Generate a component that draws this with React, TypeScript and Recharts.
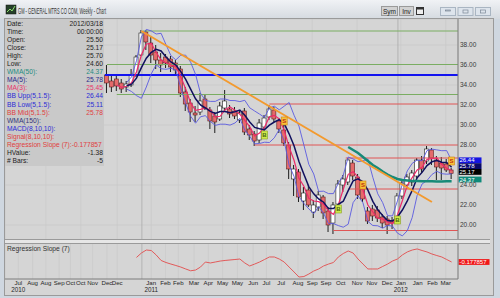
import React from 'react';
import { ComposedChart, Bar, Line, XAxis, YAxis, CartesianGrid, ReferenceLine } from 'recharts';

// GM weekly bars, week 0 = IPO week (Nov 2010) ... week 70 = 2012/03/18
const opens = [35.0, 34.4, 34.6, 34.2, 33.8, 34.0, 35.0, 37.0, 39.3, 38.2, 37.3, 36.5, 36.8, 36.6, 36.2, 35.6, 33.3, 32.2, 31.2, 31.3, 32.6, 31.5, 30.9, 30.6, 31.7, 31.6, 31.4, 30.5, 31.4, 29.6, 29.1, 28.5, 29.8, 30.8, 31.5, 30.4, 29.5, 28.0, 24.6, 25.3, 22.4, 23.5, 21.3, 21.8, 22.8, 21.4, 20.2, 22.1, 24.0, 24.3, 26.2, 24.8, 23.6, 21.4, 21.6, 21.5, 20.8, 20.6, 20.4, 20.6, 22.9, 24.0, 24.3, 24.9, 26.5, 26.4, 27.5, 26.5, 26.2, 26.1, 25.5];
const highs = [36.0, 35.0, 35.0, 34.6, 34.4, 35.6, 37.0, 39.5, 39.5, 38.8, 38.0, 37.2, 37.1, 36.9, 36.5, 35.9, 33.8, 32.6, 31.9, 33.2, 33.0, 31.8, 31.3, 32.3, 33.5, 32.0, 31.8, 31.5, 31.7, 30.0, 29.4, 30.6, 31.0, 32.0, 31.8, 30.7, 30.0, 28.3, 26.0, 25.6, 23.8, 24.0, 22.5, 23.4, 23.0, 21.8, 22.3, 24.5, 25.0, 26.7, 26.5, 25.1, 24.1, 21.8, 22.0, 21.9, 21.1, 20.9, 20.8, 23.2, 24.5, 25.1, 25.5, 26.7, 26.9, 27.9, 27.7, 26.9, 26.8, 26.6, 25.7];
const lows = [33.2, 33.3, 33.4, 33.2, 33.3, 33.8, 34.8, 36.9, 37.5, 36.2, 35.6, 35.3, 35.7, 35.3, 34.9, 32.8, 31.4, 30.3, 30.3, 31.0, 31.5, 29.6, 29.2, 30.4, 31.5, 30.7, 30.6, 30.2, 29.0, 28.5, 27.9, 28.2, 29.4, 30.5, 30.3, 29.2, 27.9, 24.6, 22.9, 22.3, 21.5, 21.8, 20.7, 21.4, 20.6, 19.3, 19.1, 21.8, 23.3, 24.0, 24.5, 22.6, 22.3, 20.1, 20.4, 20.3, 19.7, 19.1, 19.6, 20.4, 22.6, 23.6, 23.9, 24.6, 25.2, 26.1, 26.0, 24.5, 24.5, 25.3, 24.6];
const closes = [34.2, 33.8, 33.9, 33.6, 34.1, 35.0, 36.8, 39.2, 38.3, 37.0, 36.5, 36.0, 36.2, 35.8, 35.5, 33.2, 32.1, 31.3, 31.0, 32.4, 31.7, 30.4, 30.3, 31.9, 32.4, 31.1, 30.9, 31.2, 29.3, 29.0, 28.4, 30.2, 30.7, 31.6, 30.6, 29.6, 28.2, 25.6, 25.6, 22.8, 23.2, 22.0, 22.0, 23.0, 21.2, 20.0, 22.0, 24.1, 24.6, 26.5, 24.9, 23.0, 22.6, 20.4, 20.9, 20.7, 20.2, 20.0, 20.2, 22.9, 24.2, 24.8, 25.2, 26.5, 25.6, 27.6, 26.7, 25.8, 25.7, 25.5, 25.17];

// indicator lines (each starts at its own week)
const ma3Start = 2;
const ma3 = [33.97, 33.77, 33.87, 34.23, 35.3, 37.0, 38.1, 38.17, 37.27, 36.5, 36.23, 36.0, 35.83, 34.83, 33.6, 32.2, 31.47, 31.57, 31.7, 31.5, 30.8, 30.87, 31.53, 31.8, 31.47, 31.07, 30.47, 29.83, 28.9, 29.2, 29.77, 30.83, 30.97, 30.6, 29.47, 27.8, 26.47, 24.67, 23.87, 22.67, 22.4, 22.33, 22.07, 21.4, 21.07, 22.03, 23.57, 25.07, 25.33, 24.8, 23.5, 22.0, 21.3, 20.67, 20.6, 20.3, 20.13, 21.03, 22.43, 23.97, 24.73, 25.5, 25.77, 26.57, 26.63, 26.7, 26.07, 25.67, 25.45];
const ma5Start = 4;
const ma5 = [33.92, 34.08, 34.68, 35.74, 36.68, 37.26, 37.56, 37.4, 36.8, 36.3, 36.0, 35.34, 34.56, 33.58, 32.62, 32.0, 31.7, 31.36, 31.16, 31.34, 31.34, 31.22, 31.32, 31.5, 30.98, 30.3, 29.76, 29.62, 29.52, 29.98, 30.3, 30.54, 30.14, 29.12, 27.92, 26.36, 25.08, 23.84, 23.12, 22.6, 22.28, 21.64, 21.64, 22.06, 22.38, 23.44, 24.42, 24.62, 24.32, 23.48, 22.36, 21.52, 20.96, 20.44, 20.4, 20.8, 21.5, 22.42, 23.46, 24.72, 25.26, 25.94, 26.32, 26.44, 26.28, 26.26, 25.78];
const bbStart = 4;
const bbUpper = [34.24, 34.81, 36.42, 38.81, 39.56, 39.41, 39.1, 39.17, 38.03, 36.93, 36.51, 36.98, 36.98, 36.28, 35.06, 33.18, 32.46, 32.36, 32.36, 32.6, 32.6, 32.45, 32.44, 32.34, 32.47, 31.72, 31.4, 31.09, 30.76, 31.71, 31.88, 31.52, 31.88, 32.25, 30.98, 29.89, 28.0, 26.07, 25.11, 23.36, 23.38, 23.14, 23.14, 24.18, 24.98, 26.8, 26.6, 26.33, 26.42, 26.6, 24.77, 23.12, 22.24, 20.93, 20.91, 22.41, 24.09, 25.41, 26.17, 26.49, 26.42, 27.44, 27.59, 27.51, 27.43, 27.44, 26.44];
const bbLower = [33.6, 33.35, 32.94, 32.67, 33.8, 35.11, 36.02, 35.63, 35.57, 35.67, 35.49, 33.7, 32.14, 30.88, 30.18, 30.82, 30.94, 30.36, 29.96, 30.08, 30.08, 29.99, 30.2, 30.66, 29.49, 28.88, 28.12, 28.15, 28.28, 28.25, 28.72, 29.56, 28.4, 25.99, 24.86, 22.83, 22.16, 21.61, 21.13, 21.84, 21.18, 20.14, 20.14, 19.94, 19.78, 20.08, 22.24, 22.91, 22.22, 20.36, 19.95, 19.92, 19.68, 19.95, 19.89, 19.19, 18.91, 19.43, 20.75, 22.95, 24.1, 24.44, 25.05, 25.37, 25.13, 25.08, 25.11];
const wma50Start = 49;
const wma50 = [27.8, 27.5, 27.2, 26.8, 26.4, 26.0, 25.7, 25.35, 25.05, 24.8, 24.6, 24.5, 24.45, 24.4, 24.4, 24.38, 24.38, 24.37, 24.36, 24.36, 24.37, 24.37];
const slopeStart = 6;
const regSlope = [0.2, 0.57, 0.82, 0.78, 0.41, -0.05, -0.22, -0.35, -0.47, -0.6, -0.76, -0.91, -0.85, -0.6, -0.18, -0.26, -0.18, -0.1, -0.05, -0.01, 0.03, 0.07, -0.26, -0.51, -0.35, -0.18, 0.03, 0.24, 0.24, 0.07, -0.18, -0.6, -1.01, -1.43, -1.39, -1.18, -0.93, -0.76, -0.51, -0.35, -0.22, 0.24, 0.53, 0.74, 0.57, 0.07, -0.35, -0.76, -0.76, -0.76, -0.55, -0.35, -0.1, 0.07, 0.41, 0.66, 0.82, 0.91, 0.78, 0.66, 0.49, 0.36, 0.24, 0.03, -0.177857];

const trendWeeks = [7, 66];
const trendPrices = [39.4, 22.3];
const buyWeeks = [32, 47, 59];
const buyPrices = [29.0, 21.6, 20.5];
const sellWeeks = [36, 52, 70];
const sellPrices = [30.4, 24.0, 26.4];

const greenLevels = [39.4, 36.05, 33.05];
const greenFrom = [7.3, 0, 2];
const ipoLevel = 35.0;
const ipoFrom = -0.4;
const redLevels = [32.1, 28.0, 26.7, 23.6, 19.45];
const redFrom = [33, 30, 48.5, 49, 46];
const yearBreaks = [7.1, 59.1];

// 26.00 sits behind the last-value boxes in the original, so it is not listed
const priceTicks = [20, 22, 24, 28, 30, 32, 34, 36, 38];
const tickWeeks = [-18, -15.1, -12.4, -9.7, -7.4, -5.3, -2.9, 0, 2.1, 9, 11.9, 14.5, 17.7, 20.6, 23.5, 26.5, 29.7, 32.4, 35.4, 38.8, 41.7, 44.5, 47.5, 50.8, 53.8, 56.9, 59.7, 63.1, 66.1, 68.8];
const tickMonths = ['Jul', 'Aug', 'Aug', 'Sep', 'Oct', 'Oct', 'Nov', 'Dec', 'Dec', 'Jan', 'Feb', 'Feb', 'Mar', 'Apr', 'May', 'May', 'Jun', 'Jul', 'Jul', 'Aug', 'Sep', 'Sep', 'Oct', 'Nov', 'Nov', 'Dec', 'Jan', 'Jan', 'Feb', 'Mar'];
const tickYears = ['2010', '', '', '', '', '', '', '', '', '2011', '', '', '', '', '', '', '', '', '', '', '', '', '', '', '', '', '2012', '', '', ''];

const lastValues = [26.44, 25.78, 25.17, 24.37];
const lastSlope = -0.177857;

const infoLabels = ['Date:', 'Time:', 'Open:', 'Close:', 'High:', 'Low:', 'WMA(50):', 'MA(5):', 'MA(3):', 'BB Upp(5,1.5):', 'BB Low(5,1.5):', 'BB Mid(5,1.5):', 'WMA(150):', 'MACD(8,10,10):', 'Signal(8,10,10):', 'Regression Slope (7):-0.177857', 'HValue:', '# Bars:'];
const infoValues = ['2012/03/18', '00:00:00', '25.50', '25.17', '25.70', '24.60', '24.37', '25.78', '25.45', '26.44', '25.11', '25.78', '', '', '', '', '-1.38', '-5'];

const FONT = "'Liberation Sans', Arial, sans-serif";
const DOMAIN: [number, number] = [-20.7, 71.3];
const infoColors = ['#222', '#222', '#222', '#222', '#222', '#222', '#1f8c80', '#2a2a8a', '#e8336b', '#2b2bd6', '#2b2bd6', '#e04040', '#34347a', '#2b2bd6', '#e04040', '#e04040', '#222', '#222'];
const boxColors = ['#1515e0', '#0a0a6a', '#000000', '#0f8a7a'];
const boxShift = [-0.3, -1.1, -1.4, -1.8];

const pick = (arr: number[], start: number, i: number) => (i >= start ? arr[i - start] : null);
const at = (weeks: number[], vals: number[], i: number) => (weeks.includes(i) ? vals[weeks.indexOf(i)] : null);

const rows = opens.map((open, i) => ({
    w: i,
    open,
    high: highs[i],
    low: lows[i],
    close: closes[i],
    range: [lows[i], highs[i]],
    ma3: pick(ma3, ma3Start, i),
    ma5: pick(ma5, ma5Start, i),
    bbU: pick(bbUpper, bbStart, i),
    bbL: pick(bbLower, bbStart, i),
    wma: pick(wma50, wma50Start, i),
    slope: pick(regSlope, slopeStart, i),
    trend: at(trendWeeks, trendPrices, i),
    buy: at(buyWeeks, buyPrices, i),
    sell: at(sellWeeks, sellPrices, i),
}));

const Candle = (props: any) => {
    const { x, y, width, height, payload } = props;
    if (!payload || x == null || y == null) return <g />;
    const { open, close, high, low } = payload;
    const k = height / Math.max(high - low, 0.0001);
    const top = y + (high - Math.max(open, close)) * k;
    const bot = y + (high - Math.min(open, close)) * k;
    const cx = x + width / 2;
    const up = close >= open;
    return (
        <g>
            <line x1={cx} x2={cx} y1={y} y2={y + height} stroke="#1e1e1e" strokeWidth={1} />
            <rect x={x} y={top} width={width} height={Math.max(bot - top, 1)} fill={up ? '#ffffff' : '#e46a6a'} stroke={up ? '#222' : '#5a1f1f'} strokeWidth={0.6} />
        </g>
    );
};

const Marker = (letter: string, fill: string, stroke: string, color: string) => (props: any) => {
    const { cx, cy, value } = props;
    if (value == null || cx == null || cy == null) return <g key={props.key} />;
    return (
        <g key={props.key}>
            <rect x={cx - 3} y={cy - 4} width={6} height={8} fill={fill} stroke={stroke} strokeWidth={0.6} />
            <text x={cx} y={cy + 2.3} fontSize={6} textAnchor="middle" fill={color} fontFamily={FONT} fontWeight={700}>{letter}</text>
        </g>
    );
};

const valueBox = (text: string, fill: string, dy: number, w: number) => (props: any) => {
    const vb = props.viewBox || {};
    const x = vb.x + vb.width + 0.5;
    const y = vb.y + dy;
    return (
        <g>
            <rect x={x} y={y - 2.9} width={w} height={5.8} fill={fill} />
            <text x={x + 1} y={y + 2.1} fontSize={6} fill="#ffffff" fontFamily={FONT}>{text}</text>
        </g>
    );
};

const MonthTick = (props: any) => {
    const { x, y, payload } = props;
    const i = tickWeeks.indexOf(payload.value);
    return (
        <g>
            <text x={x} y={y + 6} textAnchor="middle" fontSize={6.1} fill="#262626" fontFamily={FONT}>{tickMonths[i]}</text>
            {tickYears[i] ? <text x={x} y={y + 13} textAnchor="middle" fontSize={6.3} fill="#262626" fontFamily={FONT}>{tickYears[i]}</text> : null}
        </g>
    );
};

export default function App() {
    return (
        <div style={{ position: 'absolute', left: 0, top: 0, width: 500, height: 298, background: '#cfd7e0', fontFamily: FONT, overflow: 'hidden' }}>
            <svg width={500} height={19} style={{ position: 'absolute', left: 0, top: 0 }}>
                <defs>
                    <linearGradient id="tbar" x1="0" y1="0" x2="0" y2="1">
                        <stop offset="0" stopColor="#f0f2f5" />
                        <stop offset="1" stopColor="#d5dae0" />
                    </linearGradient>
                </defs>
                <rect x={0} y={0} width={500} height={19} fill="url(#tbar)" />
                <rect x={6} y={5} width={10} height={9} fill="#26402a" stroke="#111" strokeWidth={0.5} />
                <polyline points="7,12 10,9 12,11 15,6" stroke="#8fe070" strokeWidth={1} fill="none" />
                <text x={18} y={13.5} fontSize={8.5} fill="#333" textLength={88} lengthAdjust="spacingAndGlyphs">GM - GENERAL MTRS CO COM, Weekly - Chart</text>
                <rect x={381.5} y={6.5} width={16} height={9} fill="#d2d2d2" stroke="#9a9a9a" />
                <text x={389.5} y={13.5} fontSize={6.5} textAnchor="middle" fill="#222">Sym</text>
                <rect x={399.5} y={6.5} width={14} height={9} fill="#d2d2d2" stroke="#9a9a9a" />
                <text x={406.5} y={13.5} fontSize={6.5} textAnchor="middle" fill="#222">Inv</text>
                <rect x={416.5} y={7.5} width={7} height={7} fill="#eeeeee" stroke="#333" />
                <rect x={416.5} y={7.5} width={7} height={2} fill="#333" />
                {[440.5, 458, 475.5].map((bx, i) => (
                    <g key={i}>
                        <rect x={bx} y={7.5} width={15} height={8} fill="#dde4ec" stroke="#a9b5c2" />
                        <rect x={bx + 5} y={10} width={5} height={i === 0 ? 1 : 3} fill="none" stroke="#7a8696" strokeWidth={0.7} />
                    </g>
                ))}
            </svg>

            <div style={{ position: 'absolute', left: 4, top: 18, width: 490, height: 278, background: '#d5d5d5', boxShadow: 'inset 0 0 0 1px #9a9a9a' }} />

            <div style={{ position: 'absolute', left: 5, top: 19 }}>
                <ComposedChart width={485} height={221} data={rows} margin={{ top: 0, right: 0, bottom: 0, left: 0 }}>
                    <CartesianGrid stroke="#c8c8c8" strokeWidth={0.6} />
                    <XAxis dataKey="w" type="number" domain={DOMAIN} ticks={tickWeeks} allowDataOverflow hide />
                    <YAxis
                        orientation="right"
                        width={32}
                        domain={[18.5, 40.6]}
                        ticks={priceTicks}
                        allowDataOverflow
                        tickFormatter={(v: number) => v.toFixed(2)}
                        tick={{ fontSize: 6.5, fill: '#3a3a3a', fontFamily: FONT }}
                        tickSize={2}
                        tickMargin={0}
                        tickLine={false}
                        axisLine={{ stroke: '#7d7d7d' }}
                    />
                    {yearBreaks.map((x) => (
                        <ReferenceLine key={`yb-${x}`} x={x} stroke="#a9a9a9" strokeWidth={0.8} />
                    ))}
                    {greenLevels.map((p, i) => (
                        <ReferenceLine key={`g-${i}`} segment={[{ x: greenFrom[i], y: p }, { x: DOMAIN[1], y: p }]} stroke="#7aad62" strokeWidth={1.2} />
                    ))}
                    {redLevels.map((p, i) => (
                        <ReferenceLine key={`r-${i}`} segment={[{ x: redFrom[i], y: p }, { x: DOMAIN[1], y: p }]} stroke="#e05555" strokeWidth={1} />
                    ))}
                    <ReferenceLine segment={[{ x: ipoFrom, y: ipoLevel }, { x: DOMAIN[1], y: ipoLevel }]} stroke="#1414f0" strokeWidth={2.2} />
                    <Bar dataKey="range" barSize={4} shape={Candle} isAnimationActive={false} />
                    <Line dataKey="bbU" stroke="#5a5ae0" strokeWidth={0.9} dot={false} activeDot={false} isAnimationActive={false} />
                    <Line dataKey="bbL" stroke="#5a5ae0" strokeWidth={0.9} dot={false} activeDot={false} isAnimationActive={false} />
                    <Line dataKey="ma3" stroke="#ee2a6a" strokeWidth={1.2} dot={false} activeDot={false} isAnimationActive={false} />
                    <Line dataKey="ma5" stroke="#10105e" strokeWidth={1.5} dot={false} activeDot={false} isAnimationActive={false} />
                    <Line dataKey="wma" stroke="#178a78" strokeWidth={2.5} dot={false} activeDot={false} isAnimationActive={false} />
                    <Line dataKey="trend" stroke="#f39a2e" strokeWidth={2} connectNulls dot={false} activeDot={false} isAnimationActive={false} />
                    <Line dataKey="buy" stroke="none" dot={Marker('B', '#cde84a', '#8aa020', '#4a6a10')} activeDot={false} isAnimationActive={false} />
                    <Line dataKey="sell" stroke="none" dot={Marker('S', '#f6c33a', '#d08010', '#c03010')} activeDot={false} isAnimationActive={false} />
                    {lastValues.map((v, i) => (
                        <ReferenceLine key={`lv-${i}`} y={v} stroke="none" label={valueBox(v.toFixed(2), boxColors[i], boxShift[i], 23)} />
                    ))}
                </ComposedChart>
            </div>

            <div style={{ position: 'absolute', left: 5, top: 19, width: 99, height: 147, background: '#c9c9c9' }}>
                {infoLabels.map((label, i) => (
                    <div
                        key={i}
                        style={{
                            position: 'absolute',
                            left: 2,
                            top: 0.5 + i * 8.1,
                            width: 96,
                            height: 8.1,
                            fontSize: 6.7,
                            lineHeight: '8.1px',
                            color: infoColors[i],
                            display: 'flex',
                            justifyContent: 'space-between',
                            whiteSpace: 'nowrap',
                        }}
                    >
                        <span>{label}</span>
                        <span>{infoValues[i]}</span>
                    </div>
                ))}
            </div>

            <div style={{ position: 'absolute', left: 5, top: 239, width: 485, height: 5, background: '#e6e6e6', borderTop: '1px solid #9a9a9a', borderBottom: '1px solid #9a9a9a', boxSizing: 'border-box' }} />

            <div style={{ position: 'absolute', left: 5, top: 244 }}>
                <ComposedChart width={485} height={52} data={rows} margin={{ top: 0, right: 0, bottom: 0, left: 0 }}>
                    <CartesianGrid stroke="#c8c8c8" strokeWidth={0.6} horizontal={false} />
                    <XAxis
                        dataKey="w"
                        type="number"
                        domain={DOMAIN}
                        ticks={tickWeeks}
                        interval={0}
                        allowDataOverflow
                        height={17}
                        tick={<MonthTick />}
                        tickSize={0}
                        tickMargin={0}
                        tickLine={false}
                        axisLine={{ stroke: '#7d7d7d' }}
                    />
                    <YAxis orientation="right" width={32} domain={[-1.595, 1.322]} allowDataOverflow tick={false} tickLine={false} axisLine={{ stroke: '#7d7d7d' }} />
                    {yearBreaks.map((x) => (
                        <ReferenceLine key={`yb2-${x}`} x={x} stroke="#a9a9a9" strokeWidth={0.8} />
                    ))}
                    <Line dataKey="slope" stroke="#e25a5a" strokeWidth={1} dot={false} activeDot={false} isAnimationActive={false} />
                    <ReferenceLine y={lastSlope} stroke="none" label={valueBox(String(lastSlope), '#f01818', 0, 31)} />
                </ComposedChart>
            </div>
            <div style={{ position: 'absolute', left: 7, top: 245, fontSize: 6.7, lineHeight: '8px', color: '#333' }}>Regression Slope (7)</div>
        </div>
    );
}
